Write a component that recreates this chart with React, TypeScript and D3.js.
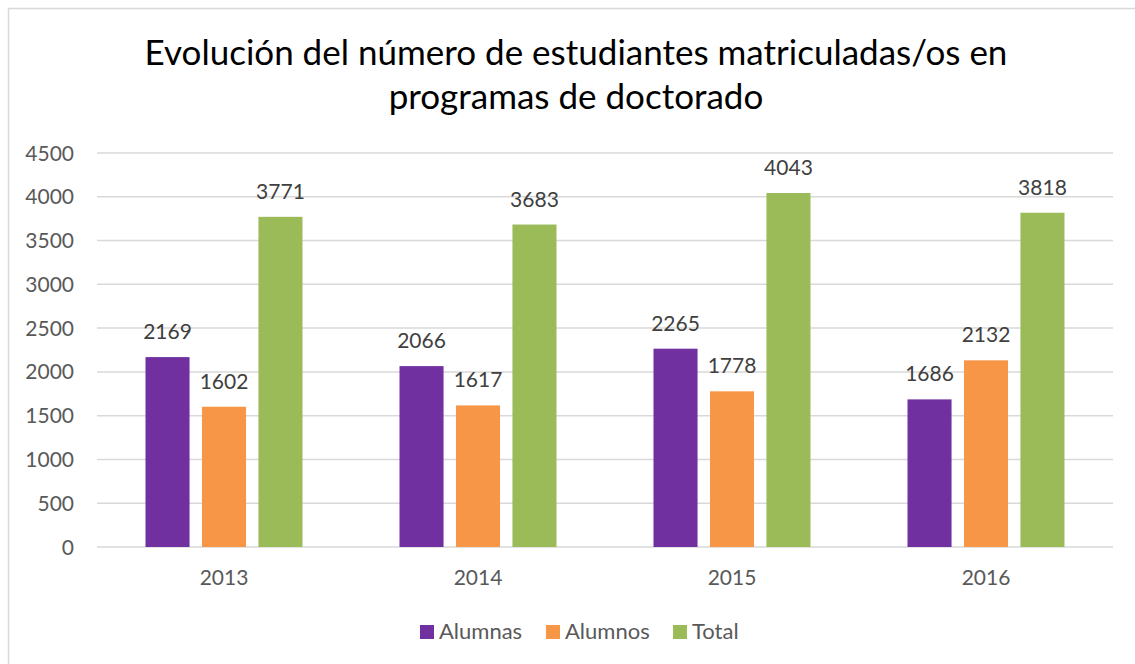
import * as d3 from 'd3';
import { useEffect, useRef } from 'react';

const years = ['2013', '2014', '2015', '2016'];
const seriesNames = ['Alumnas', 'Alumnos', 'Total'];
const alumnas = [2169, 2066, 2265, 1686];
const alumnos = [1602, 1617, 1778, 2132];
const total = [3771, 3683, 4043, 3818];
const yTicks = [0, 500, 1000, 1500, 2000, 2500, 3000, 3500, 4000, 4500];
const colors = ['#7030A0', '#F79646', '#9BBB59'];
const titleLines = ['Evolución del número de estudiantes matriculadas/os en', 'programas de doctorado'];

const font = 'Lato, "Open Sans", sans-serif';

const App = () => {
  const svgRef = useRef(null);

  useEffect(() => {
    const svg = d3.select(svgRef.current);
    svg.selectAll('*').remove();
    const W = 1135;
    const H = 664;
    const left = 97;
    const right = 1113;
    const top = 153;
    const bottom = 547;

    const values = [alumnas, alumnos, total];
    const rows = years.map((yr, i) => ({
      year: yr,
      vals: seriesNames.map((s, j) => ({ name: s, value: values[j][i], idx: j })),
    }));

    // chart frame
    svg.append('rect')
      .attr('x', 8.5).attr('y', 8.5)
      .attr('width', W).attr('height', H)
      .attr('fill', '#fff')
      .attr('stroke', '#d9d9d9')
      .attr('stroke-width', 1.5);

    svg.append('g')
      .selectAll('text')
      .data(titleLines)
      .enter()
      .append('text')
      .attr('x', 576)
      .attr('y', (d, i) => 65 + i * 44)
      .attr('text-anchor', 'middle')
      .style('font-family', font)
      .style('font-size', '35px')
      .style('fill', '#000')
      .text(d => d);

    const x0 = d3.scaleBand().domain(years).range([left, right]).padding(0);
    const x1 = d3.scaleBand().domain(seriesNames)
      .range([48.5, 205.5]).paddingInner(0.22).paddingOuter(0);
    const y = d3.scaleLinear().domain([0, 4500]).range([bottom, top]);

    const grid = svg.append('g');
    grid.selectAll('line')
      .data(yTicks)
      .enter()
      .append('line')
      .attr('x1', left).attr('x2', right)
      .attr('y1', d => y(d)).attr('y2', d => y(d))
      .attr('stroke', '#d9d9d9')
      .attr('stroke-width', 1.5);

    grid.selectAll('text')
      .data(yTicks)
      .enter()
      .append('text')
      .attr('x', 74)
      .attr('y', d => y(d))
      .attr('dy', '0.36em')
      .attr('text-anchor', 'end')
      .style('font-family', font)
      .style('font-size', '21px')
      .style('fill', '#595959')
      .text(d => d);

    const groups = svg.selectAll('.grp')
      .data(rows)
      .enter()
      .append('g')
      .attr('class', 'grp')
      .attr('transform', d => `translate(${x0(d.year)},0)`);

    groups.selectAll('rect')
      .data(d => d.vals)
      .enter()
      .append('rect')
      .attr('x', d => x1(d.name))
      .attr('y', d => y(d.value))
      .attr('width', x1.bandwidth())
      .attr('height', d => bottom - y(d.value))
      .style('fill', d => colors[d.idx]);

    groups.selectAll('text')
      .data(d => d.vals)
      .enter()
      .append('text')
      .attr('x', d => x1(d.name) + x1.bandwidth() / 2)
      .attr('y', d => y(d.value) - 18)
      .attr('text-anchor', 'middle')
      .style('font-family', font)
      .style('font-size', '21px')
      .style('fill', '#404040')
      .text(d => d.value);

    svg.append('g')
      .attr('transform', `translate(0, ${bottom})`)
      .call(d3.axisBottom(x0).tickSize(0).tickSizeOuter(0).tickPadding(0))
      .call(g => g.select('.domain').remove())
      .selectAll('text')
      .attr('y', 38)
      .attr('dy', 0)
      .style('font-family', font)
      .style('font-size', '21px')
      .style('fill', '#595959');

    const legendX = [420, 546, 673];
    const legend = svg.append('g');
    legend.selectAll('rect')
      .data(seriesNames)
      .enter()
      .append('rect')
      .attr('x', (d, i) => legendX[i])
      .attr('y', 625)
      .attr('width', 14)
      .attr('height', 14)
      .style('fill', (d, i) => colors[i]);
    legend.selectAll('text')
      .data(seriesNames)
      .enter()
      .append('text')
      .attr('x', (d, i) => legendX[i] + 19)
      .attr('y', 639)
      .style('font-family', font)
      .style('font-size', '22px')
      .style('fill', '#595959')
      .text(d => d);
  }, []);

  return (
    <svg ref={svgRef} width={1135} height={664}
      style={{ position: 'absolute', left: 0, top: 0, display: 'block' }}></svg>
  );
};

export default App;
